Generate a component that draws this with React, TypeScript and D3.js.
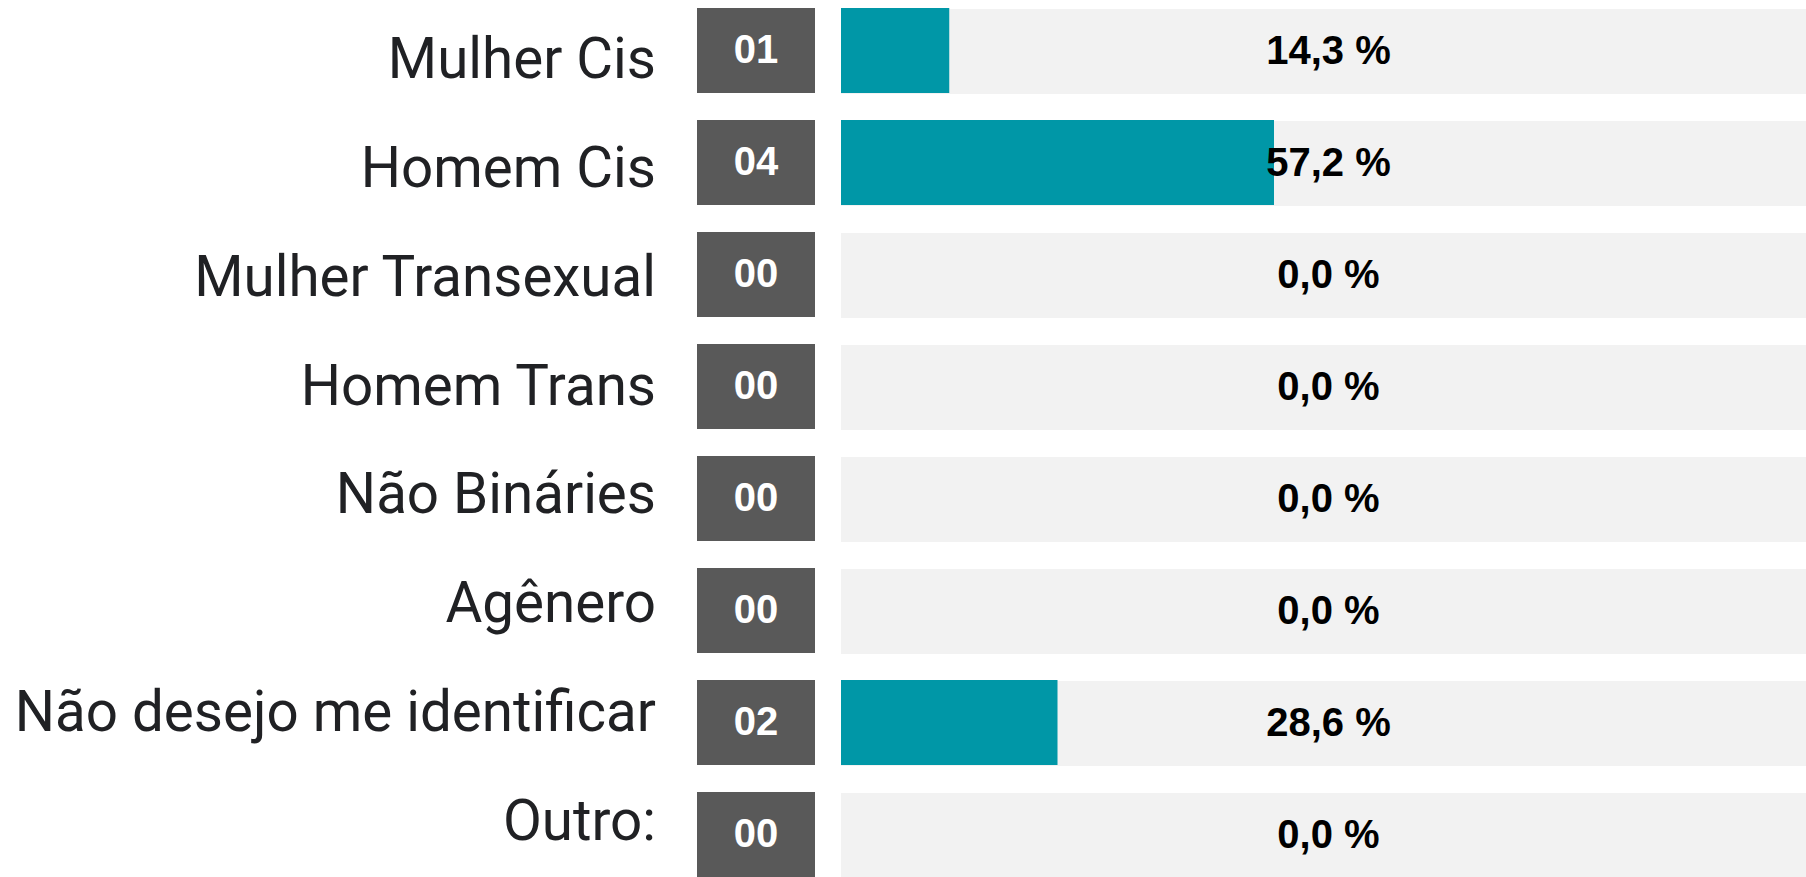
import * as d3 from 'd3'
import React from 'react'

const categories = [
    'Mulher Cis',
    'Homem Cis',
    'Mulher Transexual',
    'Homem Trans',
    'Não Bináries',
    'Agênero',
    'Não desejo me identificar',
    'Outro:',
]
const counts = [1, 4, 0, 0, 0, 0, 2, 0]
const percents = [14.3, 57.2, 0.0, 0.0, 0.0, 0.0, 28.6, 0.0]

const W = 1806
const H = 877

const teal = '#0097a7'
const boxGray = '#595959'
const trackGray = '#f2f2f2'

export default function App() {
    const svgRef = React.useRef<SVGSVGElement | null>(null)

    React.useEffect(() => {
        const svg = d3.select(svgRef.current)
        svg.selectAll('*').remove()

        // rows
        const y = d3.scaleBand<string>().domain(categories).range([8, H]).paddingInner(27 / 112).paddingOuter(0)
        // labels sit on their own slightly tighter spacing
        const yLabel = d3.scalePoint<string>().domain(categories).range([78, 840])

        const boxX0 = 697
        const boxX1 = 815
        const trackX0 = 841
        const trackX1 = W
        const x = d3.scaleLinear().domain([0, 100]).range([trackX0, trackX0 + 757])

        const fmtPct = (v: number) => d3.format('.1f')(v).replace('.', ',') + ' %'
        const fmtCount = (v: number) => d3.format('02d')(v)

        const rows = svg
            .selectAll('g.row')
            .data(categories)
            .join('g')
            .attr('class', 'row')

        // category labels
        rows.append('text')
            .attr('x', 656)
            .attr('y', (d) => yLabel(d) ?? 0)
            .attr('text-anchor', 'end')
            .attr('font-family', 'Roboto, sans-serif')
            .attr('font-size', 56.5)
            .attr('fill', '#202124')
            .text((d) => d)

        // count boxes
        rows.append('rect')
            .attr('x', boxX0)
            .attr('y', (d) => y(d) ?? 0)
            .attr('width', boxX1 - boxX0)
            .attr('height', y.bandwidth())
            .attr('fill', boxGray)

        rows.append('text')
            .attr('x', (boxX0 + boxX1) / 2)
            .attr('y', (d) => (y(d) ?? 0) + y.bandwidth() / 2 + 12)
            .attr('text-anchor', 'middle')
            .attr('font-family', '"Liberation Sans", Arial, sans-serif')
            .attr('font-weight', 'bold')
            .attr('font-size', 40)
            .attr('fill', '#ffffff')
            .text((d, i) => fmtCount(counts[i]))

        // background track
        rows.append('rect')
            .attr('x', trackX0)
            .attr('y', (d) => (y(d) ?? 0) + 1)
            .attr('width', trackX1 - trackX0)
            .attr('height', y.bandwidth())
            .attr('fill', trackGray)

        // value bars
        rows.append('rect')
            .attr('x', trackX0)
            .attr('y', (d) => y(d) ?? 0)
            .attr('width', (d, i) => x(percents[i]) - trackX0)
            .attr('height', y.bandwidth())
            .attr('fill', teal)

        // percentage labels
        rows.append('text')
            .attr('x', (trackX0 + trackX1) / 2 + 5)
            .attr('y', (d) => (y(d) ?? 0) + y.bandwidth() / 2 + 13)
            .attr('text-anchor', 'middle')
            .attr('font-family', '"Liberation Sans", Arial, sans-serif')
            .attr('font-weight', 'bold')
            .attr('font-size', 40)
            .attr('fill', '#000000')
            .text((d, i) => fmtPct(percents[i]))
    }, [])

    return (
        <svg
            ref={svgRef}
            width={W}
            height={H}
            style={{ position: 'fixed', left: 0, top: 0, background: '#ffffff' }}
        />
    )
}
